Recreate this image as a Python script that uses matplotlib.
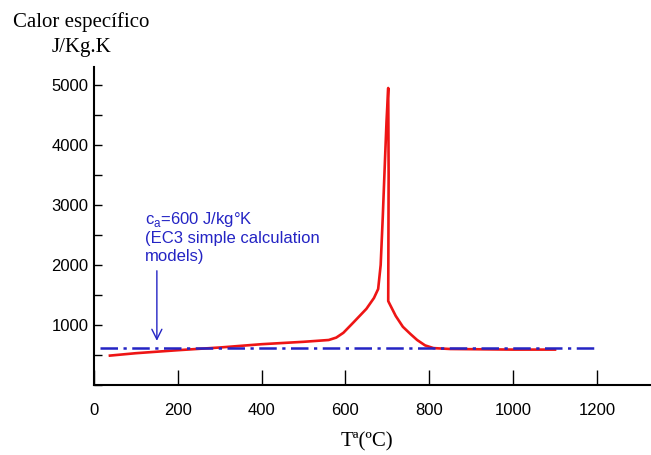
import numpy as np
import matplotlib.pyplot as plt
from matplotlib.ticker import MultipleLocator

# Specific heat of steel vs temperature
temp = [38, 100, 200, 300, 400, 500, 560, 578, 595, 620, 650, 668, 678,
        684, 689, 694, 698, 702, 703, 702, 704, 720, 737, 755, 771, 790,
        810, 850, 1000, 1100]
cp = [490, 530, 580, 625, 680, 720, 750, 790, 870, 1050, 1270, 1450, 1600,
      2000, 2800, 3700, 4400, 4950, 3500, 1400, 1370, 1150, 970, 850, 750, 660,
      615, 600, 590, 590]

# EC3 constant value line
ec3_temp = [14, 1200]
ec3_cp = [620, 620]

xticks = [0, 200, 400, 600, 800, 1000, 1200]
yticks = [1000, 2000, 3000, 4000, 5000]

sans = 'Liberation Sans'
serif = 'Liberation Serif'
blue = '#2424c4'

fig = plt.figure(figsize=(6.51, 4.55), dpi=100, facecolor='white')
ax = fig.add_axes([94 / 651, 1 - 385 / 455, 1 - 94 / 651, (385 - 67) / 455])

ax.plot(temp, cp, color='#ee1515', lw=1.9, solid_joinstyle='round')
ax.plot(ec3_temp, ec3_cp, color=blue, lw=1.8, dashes=(7, 2.2, 1.3, 2.2))

# annotation for the EC3 value
ax.text(122, 2470, 'c$_{\\mathregular{a}}$=600 J/kg°K\n(EC3 simple calculation\nmodels)',
        color=blue, fontsize=12, family=sans, ha='left', va='center', linespacing=1.2)
ax.annotate('', xy=(150, 690), xytext=(150, 1950),
            arrowprops=dict(arrowstyle='->', color=blue, lw=1.0, mutation_scale=18))

ax.set_xlim(0, 1329)
ax.set_ylim(0, 5300)
ax.set_xticks(xticks)
ax.set_yticks(yticks)
ax.yaxis.set_minor_locator(MultipleLocator(500))

for s in ['top', 'right']:
    ax.spines[s].set_visible(False)
for s in ['left', 'bottom']:
    ax.spines[s].set_linewidth(1.5)

ax.tick_params(axis='x', direction='in', length=11, width=1, pad=13, labelsize=12)
ax.tick_params(axis='y', which='both', direction='in', length=6, width=1, pad=4, labelsize=12)
for lab in ax.get_xticklabels() + ax.get_yticklabels():
    lab.set_family(sans)

fig.text(13 / 651, 1 - 27 / 455, 'Calor específico', family=serif, fontsize=15, va='baseline')
fig.text(52 / 651, 1 - 52 / 455, 'J/Kg.K', family=serif, fontsize=15, va='baseline')
fig.text(367 / 651, 1 - 446 / 455, 'Tª(ºC)', family=serif, fontsize=15, ha='center', va='baseline')

fig.savefig('out.png', dpi=100, facecolor='white')
